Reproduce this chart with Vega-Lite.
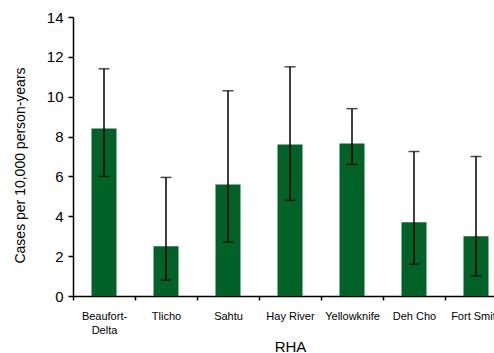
{
  "$schema": "https://vega.github.io/schema/vega-lite/v6.json",
  "width": 434,
  "height": 279,
  "autosize": {"type": "none"},
  "padding": {"left": 73, "top": 17, "right": 0, "bottom": 57},
  "background": "white",
  "config": {
    "view": {"stroke": null},
    "font": "Liberation Sans",
    "axis": {"grid": false, "domainColor": "black", "tickColor": "black", "labelColor": "black", "titleColor": "black", "labelFont": "Liberation Sans", "titleFont": "Liberation Sans", "titleFontWeight": "normal"},
    "axisY": {
      "values": [0, 2, 4, 6, 8, 10, 12, 14], "labelFontSize": 15, "labelPadding": 5,
      "labelOverlap": false, "labelBound": false, "labelFlush": false,
      "tickSize": 5, "domainWidth": 1.5, "tickWidth": 1.5, "titleFontSize": 14, "titlePadding": 19, "titleY": 148
    }
  },
  "data": {
    "values": [
      {"RHA": "Beaufort-Delta", "rate": 8.4, "lo": 6.0, "hi": 11.4},
      {"RHA": "Tlicho", "rate": 2.5, "lo": 0.8, "hi": 5.95},
      {"RHA": "Sahtu", "rate": 5.6, "lo": 2.7, "hi": 10.3},
      {"RHA": "Hay River", "rate": 7.6, "lo": 4.8, "hi": 11.5},
      {"RHA": "Yellowknife", "rate": 7.65, "lo": 6.6, "hi": 9.4},
      {"RHA": "Deh Cho", "rate": 3.7, "lo": 1.6, "hi": 7.25},
      {"RHA": "Fort Smith", "rate": 3.0, "lo": 1.0, "hi": 7.0}
    ]
  },
  "encoding": {
    "x": {
      "field": "RHA", "type": "nominal", "sort": null,
      "scale": {"paddingInner": 0, "paddingOuter": 0},
      "axis": {
        "title": "RHA", "titleFontSize": 15, "titlePadding": 4,
        "labelAngle": 0, "labelFontSize": 11, "labelPadding": 10, "tickSize": 4,
        "tickBand": "extent", "domainWidth": 1.5, "tickWidth": 1.5,
        "labelLineHeight": 14, "labelOverlap": false, "labelBound": false,
        "labelExpr": "datum.label == 'Beaufort-Delta' ? ['Beaufort-', 'Delta'] : datum.label"
      }
    }
  },
  "layer": [
    {
      "mark": {"type": "bar", "size": 25, "color": "#016228"},
      "encoding": {
        "y": {
          "field": "rate", "type": "quantitative",
          "scale": {"domain": [0, 14], "nice": false},
          "axis": {"title": "Cases per 10,000 person-years"}
        }
      }
    },
    {
      "mark": {"type": "rule", "color": "black", "strokeWidth": 1.5},
      "encoding": {
        "y": {"field": "lo", "type": "quantitative", "axis": {"title": "Cases per 10,000 person-years"}},
        "y2": {"field": "hi"}
      }
    },
    {
      "mark": {"type": "tick", "color": "black", "size": 11, "thickness": 1.5},
      "encoding": {"y": {"field": "lo", "type": "quantitative", "axis": {"title": "Cases per 10,000 person-years"}}}
    },
    {
      "mark": {"type": "tick", "color": "black", "size": 11, "thickness": 1.5},
      "encoding": {"y": {"field": "hi", "type": "quantitative", "axis": {"title": "Cases per 10,000 person-years"}}}
    }
  ]
}
